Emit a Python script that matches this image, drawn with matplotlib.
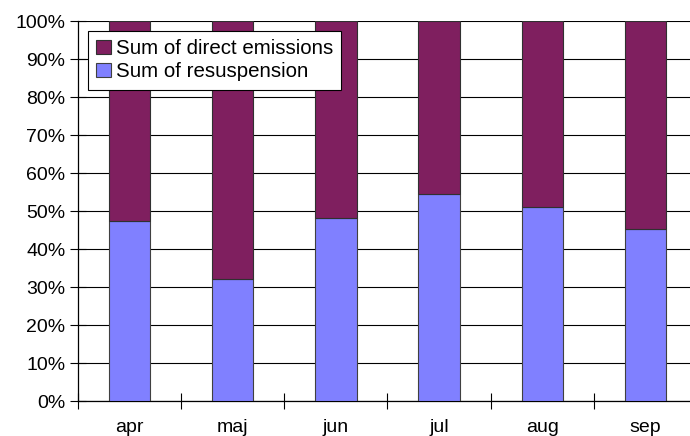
import matplotlib

matplotlib.use("Agg")
import matplotlib.pyplot as plt
import numpy as np

months = ["apr", "maj", "jun", "jul", "aug", "sep"]
resuspension = [47.4, 32.0, 48.2, 54.4, 51.1, 45.3]
direct_emissions = [100 - v for v in resuspension]
y_ticks = list(range(0, 101, 10))

plt.rcParams["font.family"] = ["Liberation Sans", "DejaVu Sans"]

purple = "#7F1F5F"
blue = "#8080FF"
font_size = 14

fig = plt.figure(figsize=(6.9, 4.36), dpi=100)
ax = fig.add_axes([78 / 690, 1 - 401 / 436, 619 / 690, 380 / 436])

x = np.arange(len(months)) + 0.5
ax.bar(x, resuspension, width=0.4, color=blue, edgecolor="#404040",
       linewidth=0.8, label="Sum of resuspension", zorder=3)
ax.bar(x, direct_emissions, bottom=resuspension, width=0.4, color=purple,
       edgecolor="#303030", linewidth=0.8, label="Sum of direct emissions",
       zorder=3)

ax.set_xlim(0, len(months))
ax.set_ylim(0, 100)
ax.set_yticks(y_ticks)
ax.set_yticklabels([f"{t}%" for t in y_ticks], fontsize=font_size)
ax.yaxis.grid(True, color="black", linewidth=0.8, zorder=0)
ax.set_axisbelow(True)

# category boundaries carry the tick marks, labels sit in the middle
ax.set_xticks(np.arange(len(months) + 1))
ax.set_xticklabels([])
ax.set_xticks(x, minor=True)
ax.set_xticklabels(months, minor=True, fontsize=font_size)
ax.tick_params(axis="x", which="minor", length=0, pad=13)
ax.tick_params(axis="x", which="major", direction="inout", length=12,
               width=0.8)
ax.tick_params(axis="y", direction="inout", length=12, width=0.8, pad=3)

for side in ["top", "right"]:
    ax.spines[side].set_visible(False)
for side in ["left", "bottom"]:
    ax.spines[side].set_linewidth(0.9)

handles, labels = ax.get_legend_handles_labels()
leg = ax.legend(
    handles[::-1],
    labels[::-1],
    loc="upper left",
    bbox_to_anchor=(88 / 690, 1 - 31 / 436),
    bbox_transform=fig.transFigure,
    prop={"size": 14.8},
    fancybox=False,
    framealpha=1,
    edgecolor="black",
    handlelength=0.7,
    handleheight=0.7,
    handletextpad=0.25,
    borderpad=0.4,
    labelspacing=0.2,
    borderaxespad=0,
)
leg.get_frame().set_linewidth(0.8)

fig.savefig("out.png", dpi=100)
